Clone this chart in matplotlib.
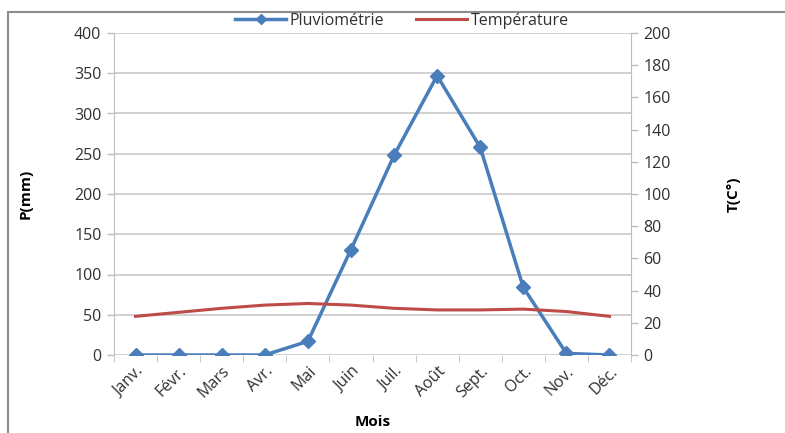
import matplotlib
matplotlib.use('Agg')
from matplotlib import pyplot as plt
from matplotlib.patches import Rectangle

plt.rcParams['font.family'] = ['Open Sans', 'DejaVu Sans']

mois = ['Janv.', 'Févr.', 'Mars', 'Avr.', 'Mai', 'Juin', 'Juil.', 'Août',
        'Sept.', 'Oct.', 'Nov.', 'Déc.']
pluvio = [0, 0, 0, 0, 17, 131, 248, 347, 258, 84, 2, 0]
temperature = [24, 26.5, 29, 31, 32, 31, 29, 28, 28, 28.5, 27, 24]

p_ticks = list(range(0, 401, 50))
t_ticks = list(range(0, 201, 20))

W, H = 785, 433
fig = plt.figure(figsize=(W / 100, H / 100), dpi=100)

# cadre gris autour du graphique
fig.patches.append(Rectangle((8 / W, -0.05), 1.1, 1 - 12 / H + 0.05,
                             transform=fig.transFigure, fill=False,
                             edgecolor='#8c8c8c', linewidth=1.5))

left, right = 114 / W, 631 / W
bottom, top = 1 - 355 / H, 1 - 33 / H
ax = fig.add_axes([left, bottom, right - left, top - bottom])
ax2 = ax.twinx()

x = list(range(len(mois)))
l1, = ax.plot(x, pluvio, color='#4a7ebb', linewidth=2.5, marker='D',
              markersize=7, label='Pluviométrie', zorder=3)
l2, = ax2.plot(x, temperature, color='#be4b48', linewidth=2.2,
               label='Température', zorder=2)

ax.set_xlim(-0.5, len(mois) - 0.5)
ax.set_ylim(0, 400)
ax2.set_ylim(0, 200)
ax.set_yticks(p_ticks)
ax2.set_yticks(t_ticks)
ax.set_xticks(x)
ax.set_xticklabels(mois, rotation=45, ha='right', rotation_mode='anchor',
                   fontsize=11.5, color='#303030')

ax.yaxis.grid(True, color='#c8c8c8', linewidth=1.2)
ax.set_axisbelow(True)
for a in (ax, ax2):
    for s in ('top', 'bottom', 'left', 'right'):
        a.spines[s].set_visible(False)
    a.tick_params(axis='y', labelsize=11.5, colors='#303030', length=5,
                  width=1, pad=4)
ax.spines['left'].set_visible(True)
ax.spines['left'].set_color('#bdbdbd')
ax2.spines['right'].set_visible(True)
ax2.spines['right'].set_color('#bdbdbd')
ax.tick_params(axis='y', color='#bdbdbd')
ax2.tick_params(axis='y', color='#bdbdbd')

# ticks x entre les catégories
ax.set_xticks([i + 0.5 for i in range(-1, len(mois))], minor=True)
ax.tick_params(axis='x', which='minor', length=5, color='#bdbdbd')
ax.tick_params(axis='x', which='major', length=0, pad=6)

ax.set_ylabel('P(mm)', fontsize=11, fontweight='bold', labelpad=30)
ax2.set_ylabel('T(C°)', fontsize=11, fontweight='bold', labelpad=40)
ax.set_xlabel('Mois', fontsize=11, fontweight='bold', labelpad=10)

fig.legend(handles=[l1, l2], loc='center', bbox_to_anchor=(402 / W, 1 - 21 / H),
           ncol=2, frameon=False, fontsize=11.5, handlelength=3.2,
           columnspacing=2.0, handletextpad=0.2, labelcolor='#303030',
           markerscale=0.8)

fig.savefig('out.png', dpi=100)
